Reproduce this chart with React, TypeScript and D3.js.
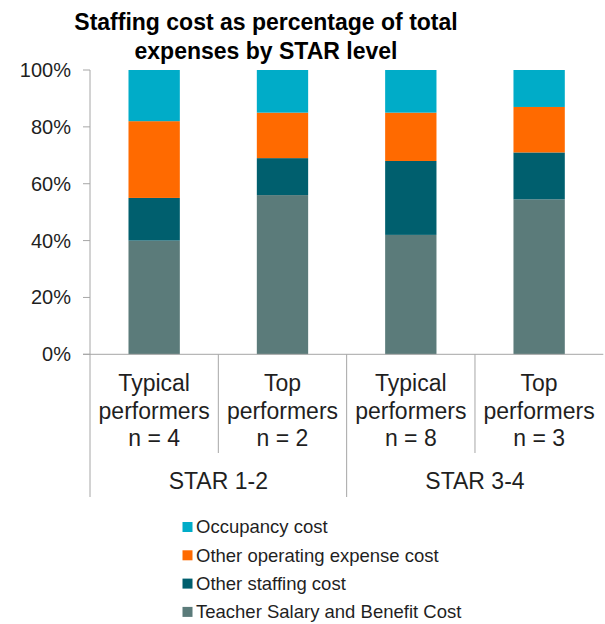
import React from "react";
import * as d3 from "d3";

const performerTypes = ["Typical", "Top", "Typical", "Top"];
const sampleSizes = [4, 2, 8, 3];
const starLevels = ["STAR 1-2", "STAR 3-4"];
const seriesNames = [
  "Teacher Salary and Benefit Cost",
  "Other staffing cost",
  "Other operating expense cost",
  "Occupancy cost",
];
const teacherSalary = [40, 56, 42, 54.5];
const otherStaffing = [15, 13, 26, 16.5];
const otherOperating = [27, 16, 17, 16];
const occupancy = [18, 15, 15, 13];
const yTicks = [0, 20, 40, 60, 80, 100];
const colors = ["#5B7B7A", "#005F6E", "#FF6A00", "#00ACC8"];

const FONT = "Arial, 'Liberation Sans', sans-serif";

export default function App() {
  const W = 605;
  const H = 624;
  const left = 90;
  const right = 603.3;
  const top = 70;
  const bottom = 354.3;

  const idx = performerTypes.map((_, i) => i);
  const x = d3
    .scaleBand<number>()
    .domain(idx)
    .range([left, right])
    .paddingInner(0.6)
    .paddingOuter(0.3);
  const step = x.step();
  const y = d3.scaleLinear().domain([0, 100]).range([bottom, top]);

  const rows = idx.map((i) => ({
    i,
    s0: teacherSalary[i],
    s1: otherStaffing[i],
    s2: otherOperating[i],
    s3: occupancy[i],
  }));
  const stack = d3.stack<any>().keys(["s0", "s1", "s2", "s3"]);
  const layers = stack(rows);

  const axisColor = "#A6A6A6";
  const textColor = "#1F1F1F";

  const legendOrder = [3, 2, 1, 0];

  return (
    <svg
      width={W}
      height={H}
      style={{ position: "absolute", left: 0, top: 0, background: "#fff" }}
      fontFamily={FONT}
    >
      <rect x={0} y={0} width={W} height={H} fill="#fff" />
      {/* title */}
      <text x={266} y={30} textAnchor="middle" fontWeight="bold" fontSize={23} fill="#000">
        Staffing cost as percentage of total
      </text>
      <text x={266} y={59} textAnchor="middle" fontWeight="bold" fontSize={23} fill="#000">
        expenses by STAR level
      </text>

      {/* bars */}
      {layers.map((layer, li) => (
        <g key={li} fill={colors[li]}>
          {layer.map((d: any, j: number) => (
            <rect
              key={j}
              x={x(d.data.i)}
              y={y(d[1])}
              width={x.bandwidth()}
              height={y(d[0]) - y(d[1])}
            />
          ))}
        </g>
      ))}

      {/* y axis */}
      <line x1={left} x2={left} y1={y(100)} y2={497} stroke={axisColor} strokeWidth={1} />
      {yTicks.map((t) => (
        <g key={t}>
          <line x1={left - 7} x2={left} y1={y(t)} y2={y(t)} stroke={axisColor} />
          <text
            x={71}
            y={y(t)}
            dy="0.35em"
            textAnchor="end"
            fontSize={20}
            fill={textColor}
          >
            {t}%
          </text>
        </g>
      ))}

      {/* x axis */}
      <line x1={left - 7} x2={right} y1={bottom} y2={bottom} stroke={axisColor} />
      {idx.slice(1).map((i) => {
        const xs = left + i * step;
        const isGroup = i % 2 === 0;
        return (
          <line
            key={i}
            x1={xs}
            x2={xs}
            y1={bottom}
            y2={isGroup ? 497 : 453}
            stroke={axisColor}
          />
        );
      })}

      {/* category labels */}
      {idx.map((i) => {
        const cx = (x(i) as number) + x.bandwidth() / 2;
        return (
          <g key={i} fontSize={23} fill={textColor} textAnchor="middle">
            <text x={cx} y={391}>{performerTypes[i]}</text>
            <text x={cx} y={418.5}>performers</text>
            <text x={cx} y={446}>n = {sampleSizes[i]}</text>
          </g>
        );
      })}
      {starLevels.map((s, g) => (
        <text
          key={s}
          x={left + (g * 2 + 1) * step}
          y={489}
          fontSize={23}
          fill={textColor}
          textAnchor="middle"
        >
          {s}
        </text>
      ))}

      {/* legend */}
      {legendOrder.map((si, k) => {
        const cy = 527 + k * 28.3;
        return (
          <g key={si}>
            <rect x={182.5} y={cy - 5} width={10} height={10} fill={colors[si]} />
            <text x={196} y={cy} dy="0.35em" fontSize={18.5} fill={textColor}>
              {seriesNames[si]}
            </text>
          </g>
        );
      })}
    </svg>
  );
}
